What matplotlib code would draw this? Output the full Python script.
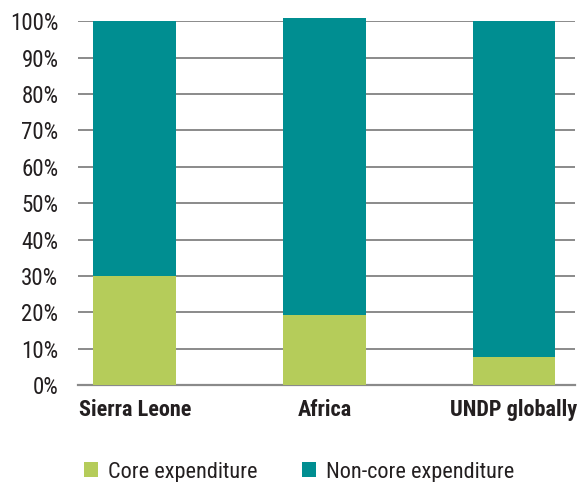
import matplotlib
matplotlib.use("Agg")
import matplotlib.pyplot as plt
from matplotlib.ticker import PercentFormatter

categories = ['Sierra Leone', 'Africa', 'UNDP globally']
core = [30.0, 19.2, 7.7]
non_core = [70.0, 81.6, 92.3]

green = '#B5CC5A'
teal = '#008E91'
txt = '#231F20'

plt.rcParams['font.family'] = ['Roboto Condensed', 'DejaVu Sans']

fig = plt.figure(figsize=(5.77, 4.82), dpi=100)
ax = fig.add_axes([0.135, 0.201, 0.861, 0.755])

x = range(len(categories))
ax.bar(x, core, width=0.437, color=green, label='Core expenditure', zorder=3, clip_on=False)
ax.bar(x, non_core, bottom=core, width=0.437, color=teal, label='Non-core expenditure', zorder=3, clip_on=False)

ax.set_ylim(0, 100)
ax.set_xlim(-0.3, 2.32)
ax.set_yticks(range(0, 101, 10))
ax.yaxis.set_major_formatter(PercentFormatter(decimals=0))
ax.grid(axis='y', color='#8a8a8a', linewidth=1.4, zorder=0)
ax.tick_params(axis='y', length=0, labelsize=16.5, labelcolor=txt, pad=14)
ax.tick_params(axis='x', length=0, labelsize=16, labelcolor=txt, pad=10)
ax.set_xticks(list(x))
ax.set_xticklabels(categories, fontweight='bold')

for s in ['top', 'right', 'left']:
    ax.spines[s].set_visible(False)
ax.spines['bottom'].set_color('#8a8a8a')
ax.spines['bottom'].set_linewidth(1.6)

handles, labels = ax.get_legend_handles_labels()
fig.legend(handles, labels, loc='center left', bbox_to_anchor=(0.1456, 0.0207), ncol=2,
           frameon=False, fontsize=16, borderpad=0, borderaxespad=0,
           handlelength=0.63, handleheight=0.63,
           handletextpad=0.45, columnspacing=2.0, labelcolor=txt)

fig.savefig('out.png', dpi=100)
